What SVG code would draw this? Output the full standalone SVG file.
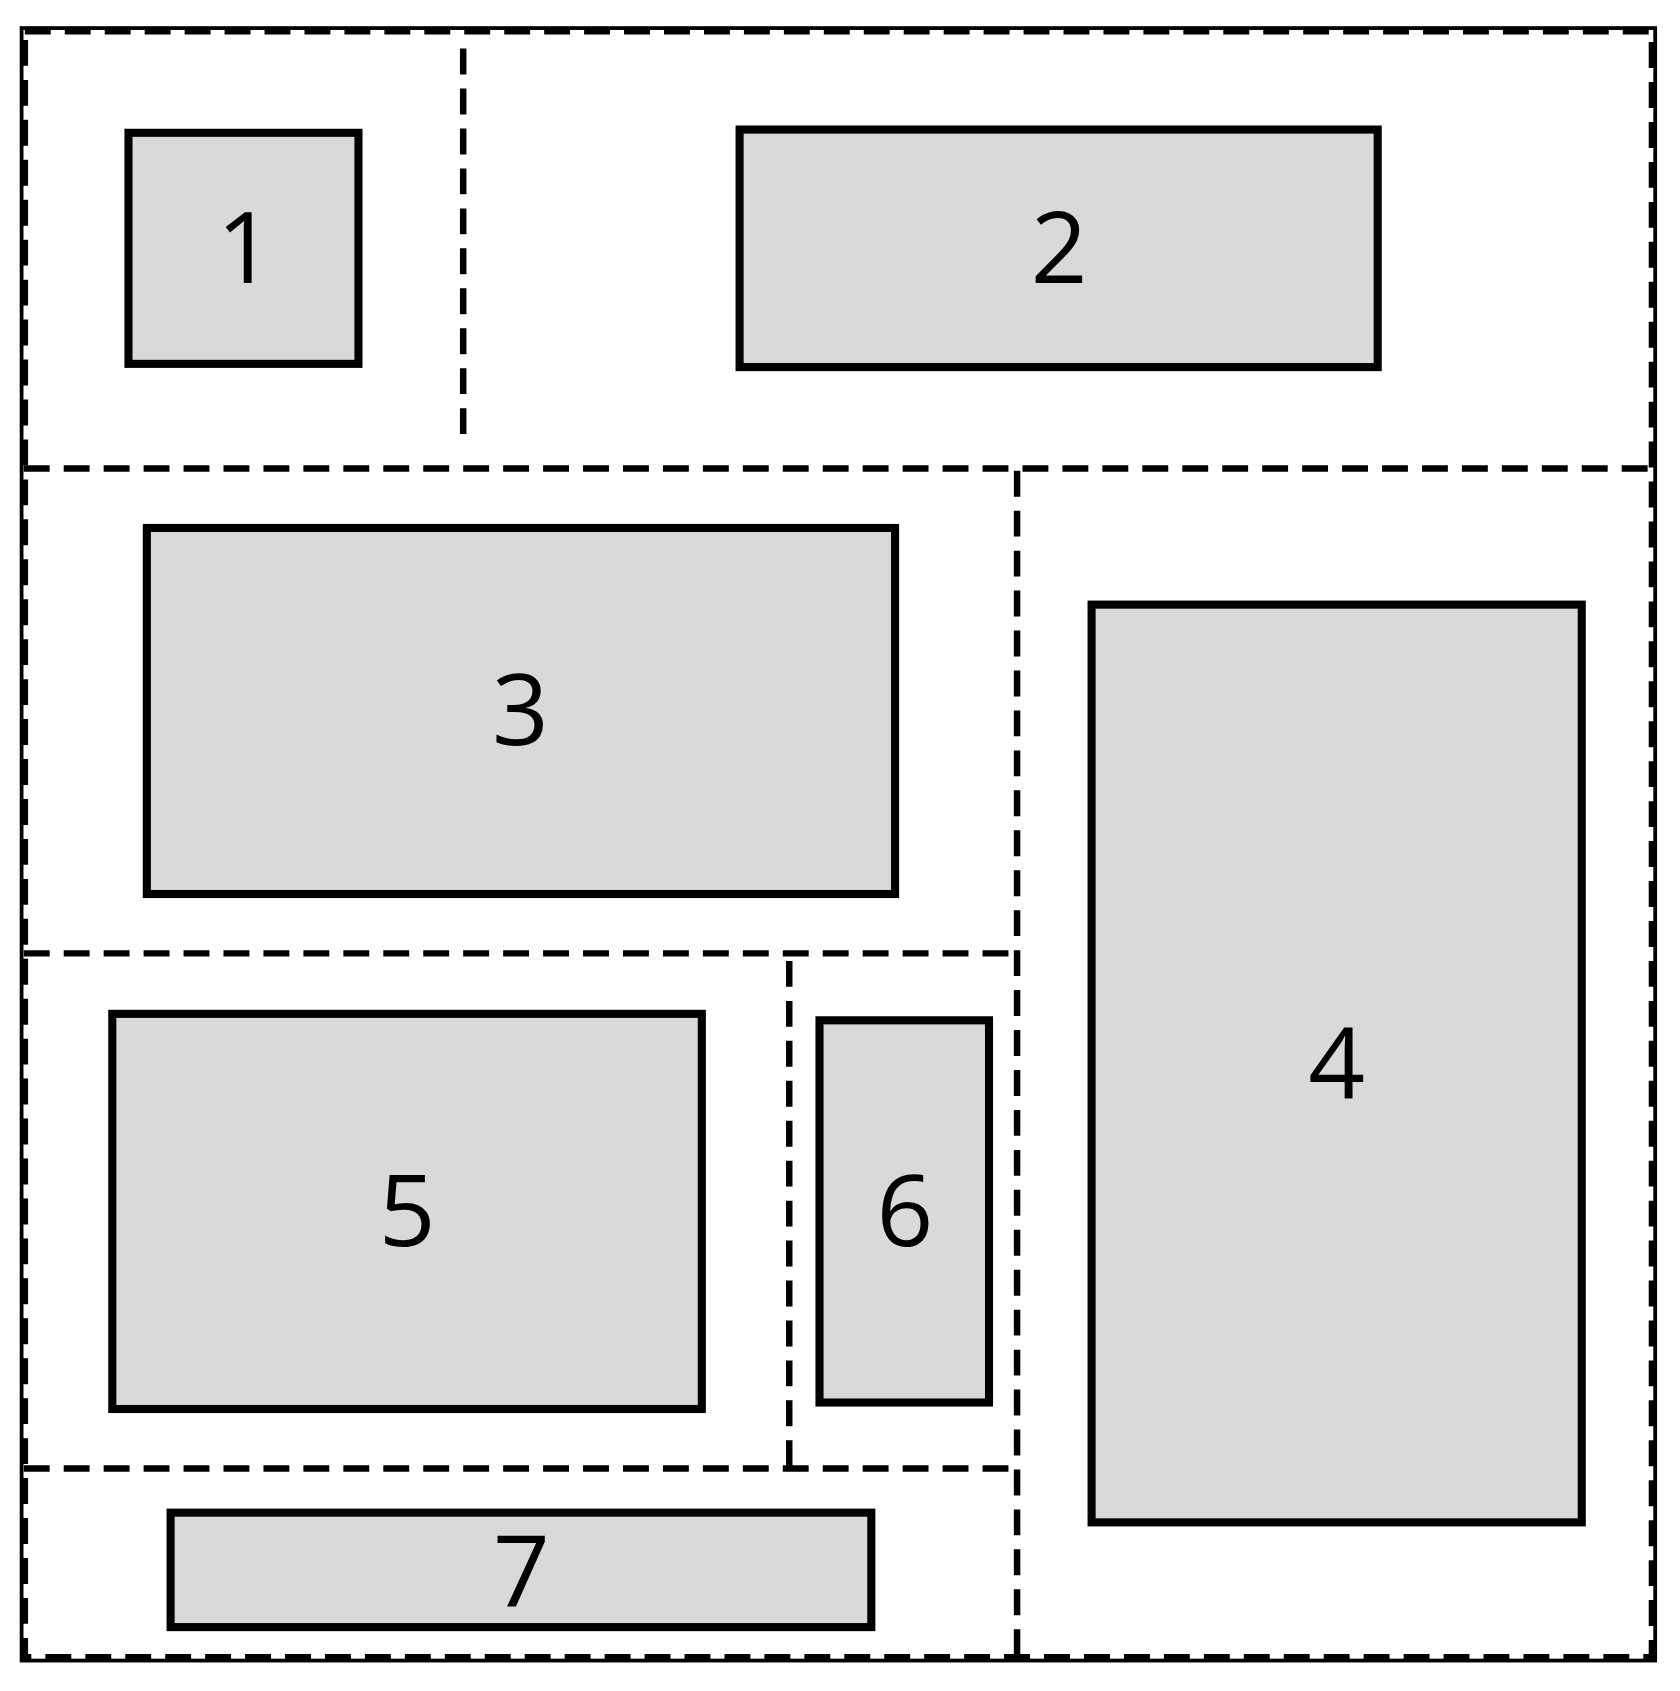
<svg xmlns="http://www.w3.org/2000/svg" width="1680" height="1691" viewBox="0 0 1680 1691">
<style>
.d{stroke:#000;stroke-width:6;stroke-dasharray:24 13;fill:none}
.n{fill:#d9d9d9;stroke:#000;stroke-width:7.5}
.t{font-family:"Open Sans","Liberation Sans",sans-serif;font-size:92px;fill:#000;text-anchor:middle;dominant-baseline:central}
</style>
<rect width="1680" height="1691" fill="#fff"/>
<g transform="scale(1.0797)">
<g id="connectors">
<rect x="20" y="26" width="1513" height="1512" fill="none" stroke="#000" stroke-width="3.5"/>
<rect x="23" y="29" width="1507" height="1506" class="d"/>
<line class="d" x1="429" y1="45" x2="429" y2="412"/>
<line class="d" x1="22" y1="434" x2="1530" y2="434"/>
<line class="d" x1="942" y1="436" x2="942" y2="1535"/>
<line class="d" x1="22" y1="883" x2="942" y2="883"/>
<line class="d" x1="731" y1="890" x2="731" y2="1360"/>
<line class="d" x1="22" y1="1360" x2="945" y2="1360"/>
</g>
<g id="n1"><rect class="n" x="119" y="123" width="213" height="214"/><text class="t" x="227" y="226">1</text></g>
<g id="n2"><rect class="n" x="685" y="120" width="591" height="220"/><text class="t" x="981" y="226">2</text></g>
<g id="n3"><rect class="n" x="136" y="489" width="693" height="339"/><text class="t" x="482" y="654">3</text></g>
<g id="n4"><rect class="n" x="1011" y="560" width="454" height="850"/><text class="t" x="1238" y="981">4</text></g>
<g id="n5"><rect class="n" x="104" y="939" width="546" height="366"/><text class="t" x="377" y="1118">5</text></g>
<g id="n6"><rect class="n" x="759" y="945" width="157" height="354"/><text class="t" x="838" y="1118">6</text></g>
<g id="n7"><rect class="n" x="158" y="1401" width="649" height="106"/><text class="t" x="483" y="1452">7</text></g>
</g>
</svg>
